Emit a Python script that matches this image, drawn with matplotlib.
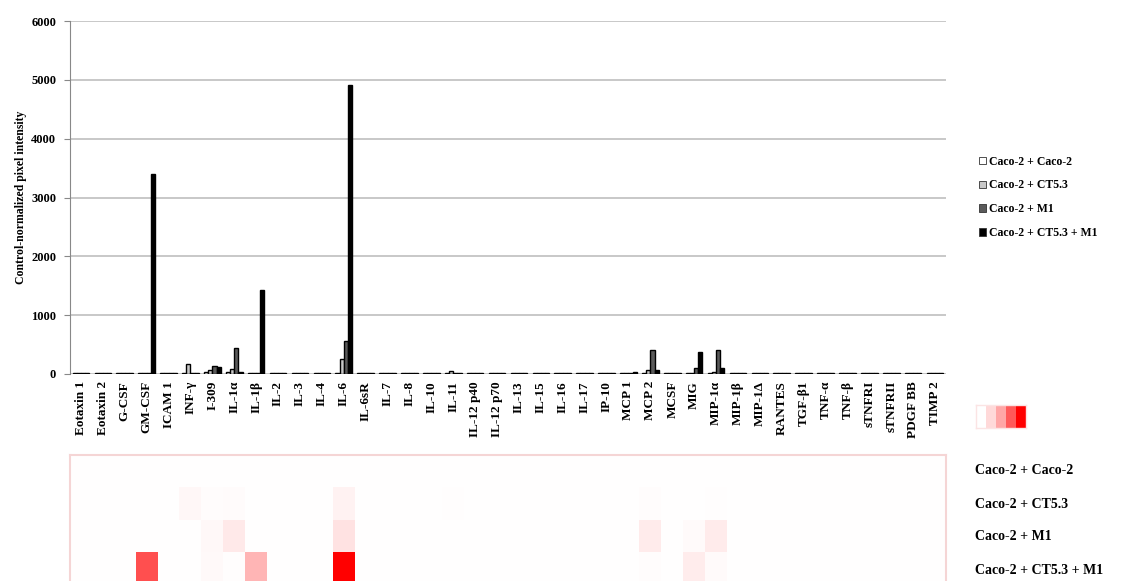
import numpy as np
import matplotlib
matplotlib.use('Agg')
from matplotlib import pyplot as plt
from matplotlib.colors import LinearSegmentedColormap
from matplotlib.patches import Patch

plt.rcParams['font.family'] = ['Liberation Serif', 'DejaVu Serif']
plt.rcParams['font.weight'] = 'bold'

cytokines = ['Eotaxin 1', 'Eotaxin 2', 'G-CSF', 'GM-CSF', 'ICAM 1', 'INF-γ', 'I-309',
             'IL-1α', 'IL-1β', 'IL-2', 'IL-3', 'IL-4', 'IL-6', 'IL-6sR', 'IL-7', 'IL-8',
             'IL-10', 'IL-11', 'IL-12 p40', 'IL-12 p70', 'IL-13', 'IL-15', 'IL-16', 'IL-17',
             'IP-10', 'MCP 1', 'MCP 2', 'MCSF', 'MIG', 'MIP-1α', 'MIP-1β', 'MIP-1Δ',
             'RANTES', 'TGF-β1', 'TNF-α', 'TNF-β', 'sTNFRI', 'sTNFRII', 'PDGF BB', 'TIMP 2']

series_names = ['Caco-2 + Caco-2', 'Caco-2 + CT5.3', 'Caco-2 + M1', 'Caco-2 + CT5.3 + M1']

caco_caco = [20, 20, 20, 20, 20, 20, 30, 30, 20, 20, 20, 20, 20, 20, 20, 20, 20, 20, 20, 20,
             20, 20, 20, 20, 20, 20, 20, 20, 20, 20, 20, 20, 20, 20, 20, 20, 20, 20, 20, 20]
caco_ct53 = [20, 20, 20, 20, 20, 170, 70, 90, 25, 20, 20, 20, 250, 20, 20, 20, 20, 45, 20, 20,
             20, 25, 20, 20, 20, 25, 60, 20, 20, 40, 20, 20, 20, 20, 20, 20, 20, 20, 20, 20]
caco_m1 = [20, 20, 20, 20, 20, 20, 140, 440, 20, 20, 20, 20, 560, 20, 20, 20, 20, 20, 20, 20,
           20, 20, 20, 20, 20, 25, 400, 20, 100, 400, 20, 20, 25, 20, 20, 20, 20, 20, 20, 20]
caco_ct53_m1 = [25, 20, 20, 3400, 20, 20, 120, 40, 1430, 20, 20, 20, 4920, 20, 20, 20, 20, 20, 20, 20,
                20, 20, 20, 20, 20, 30, 60, 20, 370, 100, 20, 20, 25, 20, 20, 20, 20, 20, 20, 20]

gradient_steps = [0.0, 0.15, 0.35, 0.65, 1.0]

series = [caco_caco, caco_ct53, caco_m1, caco_ct53_m1]
colors = ['white', '#c8c8c8', '#5a5a5a', 'black']

fig = plt.figure(figsize=(11.27, 5.81), dpi=100)

# bar chart
ax = fig.add_axes([70 / 1127, 1 - 374 / 581, 876 / 1127, 353 / 581])
x = np.arange(len(cytokines))
w = 0.19
for k, (vals, c) in enumerate(zip(series, colors)):
    ax.bar(x + (k - 1.5) * w, vals, width=w, color=c, edgecolor='black', linewidth=1.0,
           label=series_names[k], zorder=3)

ax.set_xlim(-0.5, len(cytokines) - 0.5)
ax.set_ylim(0, 6000)
ax.set_yticks(range(0, 6001, 1000))
ax.yaxis.grid(True, color='#c4c4c4', linewidth=1.3, zorder=0)
for s in ['top', 'right', 'bottom']:
    ax.spines[s].set_visible(False)
ax.spines['left'].set_color('#888888')
ax.tick_params(axis='y', labelsize=9, length=4, color='#888888', pad=6)
ax.set_xticks(x)
ax.set_xticklabels(cytokines, rotation=90, fontsize=9.5, fontweight='bold')
ax.tick_params(axis='x', length=0, pad=5)
ax.set_ylabel('Control-normalized pixel intensity', fontsize=8.5, fontweight='bold', labelpad=3)

handles = [Patch(facecolor=c, edgecolor='#333333', linewidth=0.6) for c in colors]
fig.legend(handles, series_names, loc='upper left', bbox_to_anchor=(968 / 1127, 1 - 145 / 581),
           frameon=False, fontsize=8.5, handlelength=0.6, handleheight=0.6, handletextpad=0.3,
           labelspacing=1.0)

# heatmap
heat = np.array(series, dtype=float) / max(max(s) for s in series)
cmap = LinearSegmentedColormap.from_list('wr', ['white', 'red'])
hax = fig.add_axes([70 / 1127, 1 - 585 / 581, 876 / 1127, 130 / 581])
hax.imshow(heat, cmap=cmap, vmin=0, vmax=1, aspect='auto', interpolation='nearest')
hax.set_xticks([])
hax.set_yticks([])
for s in hax.spines.values():
    s.set_color('#f5d5d5')
    s.set_linewidth(1.5)

for i, name in enumerate(series_names):
    fig.text(975 / 1127, 1 - (471 + i * 33) / 581, name, fontsize=10, fontweight='bold',
             va='center', ha='left')

# colour scale
gax = fig.add_axes([976 / 1127, 1 - 428 / 581, 50 / 1127, 23 / 581])
gax.imshow(np.array([gradient_steps]), cmap=cmap, vmin=0, vmax=1, aspect='auto',
           interpolation='nearest')
gax.set_xticks([])
gax.set_yticks([])
for s in gax.spines.values():
    s.set_color('#fbe4e4')
    s.set_linewidth(1.0)

fig.savefig('out.png', dpi=100)
